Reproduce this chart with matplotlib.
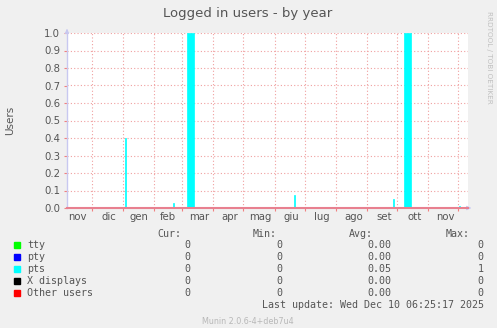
import numpy as np
import matplotlib
matplotlib.use("Agg")
import matplotlib.pyplot as plt
import matplotlib.dates as mdates
from datetime import datetime, timedelta

# time window of the yearly graph
t_start = datetime(2024, 11, 6)
t_end = datetime(2025, 12, 11)

# pts logins: start date, length in days, value
pts_start = ["2025-01-03", "2025-02-20", "2025-03-06", "2025-06-20",
             "2025-09-27", "2025-10-08", "2025-12-02"]
pts_days = [1, 1, 7, 1, 1, 7, 1]
pts_value = [0.40, 0.027, 1.0, 0.074, 0.05, 1.0, 0.01]

month_starts = ["2024-12-01", "2025-01-01", "2025-02-01", "2025-03-01", "2025-04-01",
                "2025-05-01", "2025-06-01", "2025-07-01", "2025-08-01", "2025-09-01",
                "2025-10-01", "2025-11-01", "2025-12-01"]
month_labels = ["nov", "dic", "gen", "feb", "mar", "apr", "mag", "giu",
                "lug", "ago", "set", "ott", "nov"]
label_pos = ["2024-11-16", "2024-12-18", "2025-01-17", "2025-02-15", "2025-03-18",
             "2025-04-17", "2025-05-18", "2025-06-18", "2025-07-18", "2025-08-19",
             "2025-09-18", "2025-10-19", "2025-11-18"]

legend_names = ["tty", "pty", "pts", "X displays", "Other users"]
legend_colors = ["#00ff00", "#0000ff", "#00ffff", "#000000", "#ff0000"]
cur_vals = ["0", "0", "0", "0", "0"]
min_vals = ["0", "0", "0", "0", "0"]
avg_vals = ["0.00", "0.00", "0.05", "0.00", "0.00"]
max_vals = ["0", "0", "1", "0", "0"]

W, H = 497, 328
fig = plt.figure(figsize=(W / 100, H / 100), dpi=100, facecolor="#f0f0f0")
ax = fig.add_axes([67 / W, (H - 208) / H, 401 / W, 175 / H])
ax.set_facecolor("white")

d = lambda s: datetime.strptime(s, "%Y-%m-%d")
xs = [mdates.date2num(d(s)) for s in pts_start]
ax.bar(xs, pts_value, width=pts_days, align="edge", color="#00ffff",
       edgecolor="#00ffff", linewidth=0.5, zorder=3)

ax.set_xlim(mdates.date2num(t_start), mdates.date2num(t_end))
ax.set_ylim(0, 1.0)

grid_c = "#f0a0a0"
for y in np.arange(0.1, 1.01, 0.1):
    ax.axhline(y, color=grid_c, lw=0.8, ls=(0, (1, 2)), zorder=1)
for s in month_starts:
    ax.axvline(mdates.date2num(d(s)), color=grid_c, lw=0.8, ls=(0, (1, 2)), zorder=1)

ax.set_xticks([mdates.date2num(d(s)) for s in month_starts])
ax.set_xticklabels([])
ax.tick_params(axis="x", which="major", length=2.5, color="#f08080", width=0.8)
ax.set_xticks([mdates.date2num(d(s)) for s in label_pos], minor=True)
ax.set_xticklabels(month_labels, minor=True)
ax.tick_params(axis="x", which="minor", length=0, labelsize=7.3,
               labelcolor="#555555", pad=3)
ax.set_yticks(np.round(np.arange(0, 1.01, 0.1), 1))
ax.set_yticklabels(["%.1f" % v for v in np.arange(0, 1.01, 0.1)])
ax.tick_params(axis="y", length=2, color="#f08080", labelsize=7.3,
               labelcolor="#555555", pad=3)

for sp in ["top", "right"]:
    ax.spines[sp].set_visible(False)
ax.spines["left"].set_color("#c8c8f0")
ax.spines["left"].set_linewidth(1)
ax.spines["bottom"].set_color("#e8808f")
ax.spines["bottom"].set_linewidth(1.5)
ax.spines["bottom"].set_zorder(5)
ax.set_ylim(0, 1.0)
ax.annotate("", xy=(67 / W, (H - 26) / H), xytext=(67 / W, (H - 34) / H),
            xycoords="figure fraction",
            arrowprops=dict(arrowstyle="-|>", color="#c8c8f0", lw=0.8,
                            mutation_scale=6))
ax.annotate("", xy=(474 / W, (H - 208) / H), xytext=(466 / W, (H - 208) / H),
            xycoords="figure fraction",
            arrowprops=dict(arrowstyle="-|>", color="#c8c8f0", lw=0.8,
                            mutation_scale=6))

fig.text(248 / W, 1 - 14 / H, "Logged in users - by year", ha="center", va="center",
         fontsize=9.5, color="#555555")
fig.text(10 / W, 1 - 120 / H, "Users", ha="center", va="center", rotation=90,
         fontsize=7.5, color="#555555")
fig.text(489 / W, 1 - 57 / H, "RRDTOOL / TOBI OETIKER", ha="center", va="center",
         rotation=-90, fontsize=5.2, color="#c0c0c0")

mono = "DejaVu Sans Mono"
fs = 7.2
tc = "#555555"
fig.text(181 / W, 1 - 234 / H, "Cur:", ha="right", va="center", family=mono, fontsize=fs, color=tc)
fig.text(277 / W, 1 - 234 / H, "Min:", ha="right", va="center", family=mono, fontsize=fs, color=tc)
fig.text(373 / W, 1 - 234 / H, "Avg:", ha="right", va="center", family=mono, fontsize=fs, color=tc)
fig.text(470 / W, 1 - 234 / H, "Max:", ha="right", va="center", family=mono, fontsize=fs, color=tc)
for i, name in enumerate(legend_names):
    y = 1 - (245 + 12 * i) / H
    fig.patches.append(plt.Rectangle((14 / W, y - 3 / H), 6 / W, 6 / H,
                                     transform=fig.transFigure, color=legend_colors[i]))
    fig.text(27 / W, y, name, ha="left", va="center", family=mono, fontsize=fs, color=tc)
    fig.text(190.5 / W, y, cur_vals[i], ha="right", va="center", family=mono, fontsize=fs, color=tc)
    fig.text(282.5 / W, y, min_vals[i], ha="right", va="center", family=mono, fontsize=fs, color=tc)
    fig.text(391.5 / W, y, avg_vals[i], ha="right", va="center", family=mono, fontsize=fs, color=tc)
    fig.text(483.5 / W, y, max_vals[i], ha="right", va="center", family=mono, fontsize=fs, color=tc)

fig.text(483.5 / W, 1 - 305.5 / H, "Last update: Wed Dec 10 06:25:17 2025", ha="right",
         va="center", family=mono, fontsize=fs, color=tc)
fig.text(248 / W, 1 - 321 / H, "Munin 2.0.6-4+deb7u4", ha="center", va="center",
         fontsize=5.8, color="#b8b8b8")

fig.savefig("out.png", dpi=100, facecolor=fig.get_facecolor())
